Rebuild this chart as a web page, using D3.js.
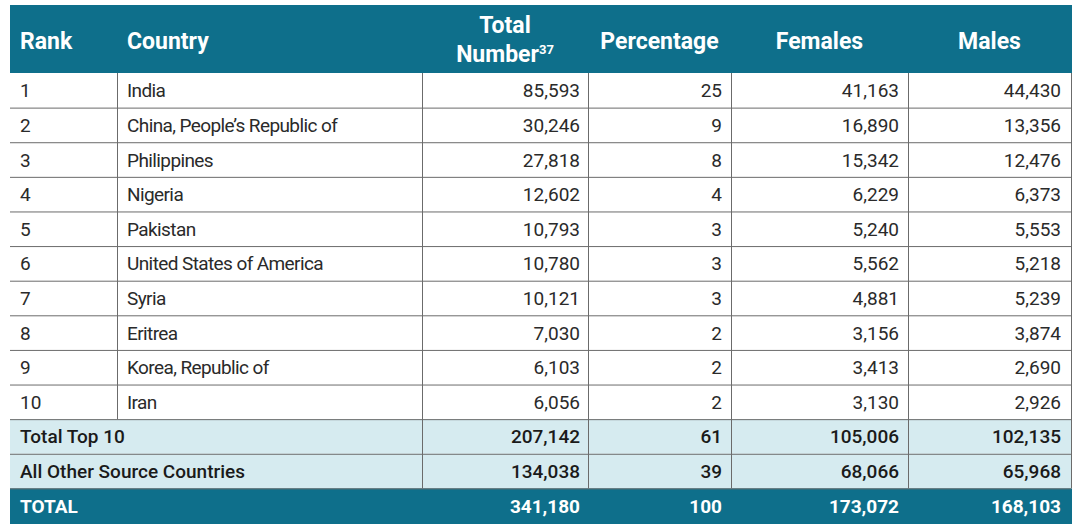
<!DOCTYPE html>
<html><head><meta charset="utf-8">
<script src="https://cdn.jsdelivr.net/npm/d3@7"></script>
<style>
html,body{margin:0;padding:0;background:#fff;}
svg{display:block;}
text{font-family:Roboto,"Open Sans",sans-serif;}
</style></head>
<body>
<svg id="c" width="1080" height="530"></svg>
<script>
const headers = ["Rank", "Country", "Total Number", "Percentage", "Females", "Males"];
const ranks = ["1","2","3","4","5","6","7","8","9","10"];
const countries = ["India","China, People\u2019s Republic of","Philippines","Nigeria","Pakistan","United States of America","Syria","Eritrea","Korea, Republic of","Iran"];
const totals = [85593,30246,27818,12602,10793,10780,10121,7030,6103,6056];
const percentages = [25,9,8,4,3,3,3,2,2,2];
const females = [41163,16890,15342,6229,5240,5562,4881,3156,3413,3130];
const males = [44430,13356,12476,6373,5553,5218,5239,3874,2690,2926];
const summaryLabels = ["Total Top 10","All Other Source Countries","TOTAL"];
const summaryTotals = [207142,134038,341180];
const summaryPct = [61,39,100];
const summaryFemales = [105006,68066,173072];
const summaryMales = [102135,65968,168103];

const svg = d3.select("#c");
const fmt = d3.format(",");
const TEAL = "#0e6f8b", LIGHT = "#d6ebf0", LINE = "#6b6b6b", TXT = "#2a2a2a";

const rowKeys = d3.range(13);
const y = d3.scaleBand().domain(rowKeys).range([73, 523]).padding(0);
const colEdges = [10, 117, 422, 588, 731, 908, 1071];
const x = d3.scaleOrdinal().domain(d3.range(7)).range(colEdges);

svg.append("rect").attr("x",10).attr("y",5).attr("width",1062).attr("height",68).attr("fill",TEAL);
[10,11].forEach(i=>{
  svg.append("rect").attr("x",10).attr("y",y(i)).attr("width",1061).attr("height",y.bandwidth()).attr("fill",LIGHT);
});
svg.append("rect").attr("x",10).attr("y",y(12)).attr("width",1062).attr("height",y.bandwidth()+1).attr("fill",TEAL);

d3.range(1,13).forEach(i=>{
  svg.append("line").attr("x1",10).attr("x2",1071).attr("y1",y(i)+0.5).attr("y2",y(i)+0.5)
    .attr("stroke",LINE).attr("stroke-width",1);
});
svg.append("line").attr("x1",x(1)+0.5).attr("x2",x(1)+0.5).attr("y1",73).attr("y2",y(10)).attr("stroke",LINE);
[2,3,4,5,6].forEach(c=>{
  svg.append("line").attr("x1",x(c)+0.5).attr("x2",x(c)+0.5).attr("y1",73).attr("y2",y(12)).attr("stroke",LINE);
});

const hs = 23;
const H = svg.append("g").attr("fill","#fff").attr("font-weight","bold").attr("font-size",hs);
H.append("text").attr("x",20).attr("y",49).text(headers[0]);
H.append("text").attr("x",127).attr("y",49).text(headers[1]);
H.append("text").attr("x",(x(2)+x(3))/2).attr("y",33).attr("text-anchor","middle").text("Total");
const nt = H.append("text").attr("x",(x(2)+x(3))/2).attr("y",62).attr("text-anchor","middle");
nt.append("tspan").text("Number");
nt.append("tspan").attr("font-size",13).attr("dy",-8).text("37");
H.append("text").attr("x",(x(3)+x(4))/2).attr("y",49).attr("text-anchor","middle").text(headers[3]);
H.append("text").attr("x",(x(4)+x(5))/2).attr("y",49).attr("text-anchor","middle").text(headers[4]);
H.append("text").attr("x",(x(5)+x(6))/2).attr("y",49).attr("text-anchor","middle").text(headers[5]);

const fs = 19;
const B = svg.append("g").attr("font-size",fs).attr("fill",TXT);
countries.forEach((c,i)=>{
  const by = y(i) + y.bandwidth()/2 + 7;
  B.append("text").attr("x",20).attr("y",by).text(ranks[i]);
  B.append("text").attr("x",127).attr("y",by).attr("letter-spacing","-0.6").text(c);
  B.append("text").attr("x",x(3)-8).attr("y",by).attr("text-anchor","end").text(fmt(totals[i]));
  B.append("text").attr("x",x(4)-9).attr("y",by).attr("text-anchor","end").text(percentages[i]);
  B.append("text").attr("x",x(5)-9).attr("y",by).attr("text-anchor","end").text(fmt(females[i]));
  B.append("text").attr("x",x(6)-10).attr("y",by).attr("text-anchor","end").text(fmt(males[i]));
});
summaryLabels.forEach((lab,k)=>{
  const i = 10+k;
  const by = y(i) + y.bandwidth()/2 + 7;
  const col = k===2 ? "#fff" : "#1a1a1a";
  const g = svg.append("g").attr("font-size",fs).attr("font-weight",k===2?"bold":"500").attr("fill",col);
  g.append("text").attr("x",20).attr("y",by).text(lab);
  g.append("text").attr("x",x(3)-8).attr("y",by).attr("text-anchor","end").text(fmt(summaryTotals[k]));
  g.append("text").attr("x",x(4)-9).attr("y",by).attr("text-anchor","end").text(summaryPct[k]);
  g.append("text").attr("x",x(5)-9).attr("y",by).attr("text-anchor","end").text(fmt(summaryFemales[k]));
  g.append("text").attr("x",x(6)-10).attr("y",by).attr("text-anchor","end").text(fmt(summaryMales[k]));
});
</script>
</body></html>
